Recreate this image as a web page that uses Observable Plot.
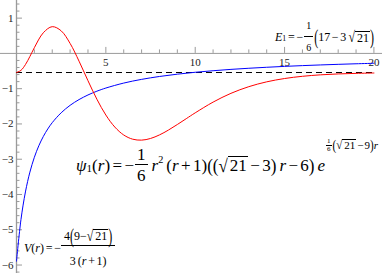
<!DOCTYPE html>
<html>
<head>
<meta charset="utf-8">
<script src="https://cdn.jsdelivr.net/npm/d3@7"></script>
<script src="https://cdn.jsdelivr.net/npm/@observablehq/plot@0.6"></script>
<style>
  html, body { margin: 0; padding: 0; background: #fff; }
  #wrap { position: relative; width: 382px; height: 273px; overflow: hidden; }
  .m { position: absolute; display: flex; align-items: center; font-family: "Liberation Serif", "Times New Roman", serif; white-space: nowrap; color: #000; line-height: 1; }
  .m i { font-style: italic; }
  .frac { display: inline-flex; flex-direction: column; align-items: center; margin: 0 1px; }
  .frac .num { border-bottom: 1px solid #000; padding: 0 2px; }
  .frac .den { padding: 0 2px; }
  .ov { border-top: 1px solid #000; padding: 0 1px 0 2px; display: inline-block; }
  .rad { display: inline-block; }
  .bp { display: inline-block; }
  .op { margin: 0 0.14em; }
  .sp { display: inline-block; width: 0.18em; }
  .sub { font-size: 0.65em; position: relative; top: 0.3em; }
  .sup { font-size: 0.6em; position: relative; top: -0.45em; }
</style>
</head>
<body>
<div id="wrap"></div>
<script>
// ---- data ----
const E1 = -0.542;                       // energy level (dashed line)
const rBlue = [0,0.25,0.5,0.75,1,1.25,1.5,1.75,2,2.5,3,3.5,4,4.5,5,6,7,8,9,10,11,12,13,14,15,16,17,18,19,20];
const vBlue = [-5.890,-4.712,-3.927,-3.366,-2.945,-2.618,-2.356,-2.142,-1.963,-1.683,-1.472,-1.309,-1.178,-1.071,-0.982,-0.841,-0.736,-0.654,-0.589,-0.535,-0.491,-0.453,-0.421,-0.393,-0.368,-0.346,-0.327,-0.310,-0.294,-0.280];
const rRed = [0,0.25,0.5,0.75,1,1.5,2,2.5,3,3.5,4,4.5,5,5.5,6,6.5,7,7.5,8,8.5,9,9.5,10,11,12,13,14,15,16,17,18,19,20];
const vRed = [-0.542,-0.481,-0.317,-0.087,0.163,0.585,0.758,0.640,0.283,-0.220,-0.774,-1.300,-1.747,-2.087,-2.313,-2.432,-2.459,-2.412,-2.311,-2.174,-2.016,-1.850,-1.685,-1.381,-1.132,-0.943,-0.806,-0.712,-0.649,-0.608,-0.582,-0.566,-0.556];
const xMajor = [5,10,15,20];
const xMinor = [1,2,3,4,6,7,8,9,11,12,13,14,16,17,18,19];
const yMajor = [1,-1,-2,-3,-4,-5,-6];
const yMinor = d3.range(-31,8).map(i => i/5).filter(v => Math.abs(v - Math.round(v)) > 1e-9);

const blue = rBlue.map((r,i) => ({r, v: vBlue[i]}));
const red = rRed.map((r,i) => ({r, v: vRed[i]}));

const W = 382, H = 273;
const xDom = [-0.895, 20.48], yDom = [-6.24, 1.5];
const pxX = W / (xDom[1]-xDom[0]);   // px per x unit
const pxY = H / (yDom[1]-yDom[0]);   // px per y unit
const axisCol = "#9a9a9a";

const chart = Plot.plot({
  width: W, height: H, margin: 0,
  x: {domain: xDom}, y: {domain: yDom},
  axis: null,
  style: {background: "transparent", fontFamily: "Liberation Serif, serif"},
  marks: [
    Plot.ruleY([0], {stroke: axisCol, strokeWidth: 1}),
    Plot.ruleX([0], {stroke: axisCol, strokeWidth: 1.3}),
    Plot.ruleX(xMinor, {x: d => d, y1: 0, y2: 3.5/pxY, stroke: axisCol}),
    Plot.ruleX(xMajor, {x: d => d, y1: 0, y2: 6/pxY, stroke: axisCol}),
    Plot.ruleY(yMinor, {y: d => d, x1: 0, x2: 3.5/pxX, stroke: axisCol}),
    Plot.ruleY(yMajor, {y: d => d, x1: 0, x2: 6/pxX, stroke: axisCol}),
    Plot.text(xMajor, {x: d => d, y: 0, dy: 9, text: d => String(d), fontSize: 11, fill: "#222"}),
    Plot.text(yMajor, {x: 0, y: d => d, dx: -3, textAnchor: "end", text: d => d < 0 ? "\u2212" + (-d) : String(d), fontSize: 11, fill: "#222"}),
    Plot.ruleY([E1], {x1: 0, x2: 20, stroke: "#000", strokeDasharray: "6,4", strokeWidth: 1}),
    Plot.line(blue, {x: "r", y: "v", stroke: "#0000ff", strokeWidth: 1, curve: "catmull-rom"}),
    Plot.line(red, {x: "r", y: "v", stroke: "#ff0000", strokeWidth: 1, curve: "catmull-rom"})
  ]
});
const wrap = document.getElementById("wrap");
wrap.appendChild(chart);

function addFormula(html, left, centerY, fontSize, height) {
  const d = document.createElement("div");
  d.className = "m";
  d.style.left = left + "px";
  d.style.top = (centerY - height/2) + "px";
  d.style.height = height + "px";
  d.style.fontSize = fontSize + "px";
  d.innerHTML = html;
  wrap.appendChild(d);
  return d;
}
const op = s => '<span class="op">' + s + '</span>';
const sp = '<span class="sp"></span>';
const bp = (c, s) => '<span class="bp" style="transform:scaleY(' + s + ')">' + c + '</span>';
const sqrt21 = (s) => '<span class="rad" style="transform:scaleY(' + s + ')">\u221A</span><span class="ov">21</span>';

// E1 annotation
addFormula(
  '<i>E</i><span class="sub">1</span>' + op('=') + '\u2212' +
  '<span class="frac" style="font-size:10px"><span class="num" style="padding-bottom:5px">1</span><span class="den" style="padding-top:6px">6</span></span>' +
  bp('(', 1.8) + '17' + op('\u2212') + '3' + sp + sqrt21(1.3) + bp(')', 1.8),
  275, 37, 12, 40);

// psi annotation
addFormula(
  '<i>\u03C8</i><span class="sub">1</span>(<i>r</i>)' + op('=') + '\u2212' +
  '<span class="frac"><span class="num" style="padding-bottom:1px">1</span><span class="den" style="padding-top:2px">6</span></span>' +
  sp + '<i>r</i><span class="sup">2</span>' + sp + '(<i>r</i>' + op('+') + '1)' +
  bp('(', 1.12) + bp('(', 1.12) + sqrt21(1.1) + op('\u2212') + '3' + bp(')', 1.12) + sp + '<i>r</i>' + op('\u2212') + '6' + bp(')', 1.12) + sp + '<i>e</i>' +
  '<span style="display:inline-flex;align-items:center;font-size:11px;position:relative;top:-20px;margin-left:0">' +
    '<span class="frac" style="font-size:7px;margin:0 1px"><span class="num" style="padding:0 1px">1</span><span class="den" style="padding:0 1px">6</span></span>' +
    bp('(', 1.3) + sqrt21(1.1) + '<span style="margin:0 1px">\u2212</span>9' + bp(')', 1.3) + '<i>r</i>' +
  '</span>',
  76, 165, 17, 50);

// V annotation
addFormula(
  '<i>V</i>(<i>r</i>)' + op('=') + '\u2212' +
  '<span class="frac" style="margin-left:0"><span class="num" style="padding:0 3px 3px;display:inline-flex;align-items:center">4' + bp('(', 1.8) + '9\u2212' + sqrt21(1.3) + bp(')', 1.8) + '</span><span class="den" style="padding-top:9px">3' + sp + '(<i>r</i>' + op('+') + '1)</span></span>',
  24, 248, 12, 60);
</script>
</body>
</html>
